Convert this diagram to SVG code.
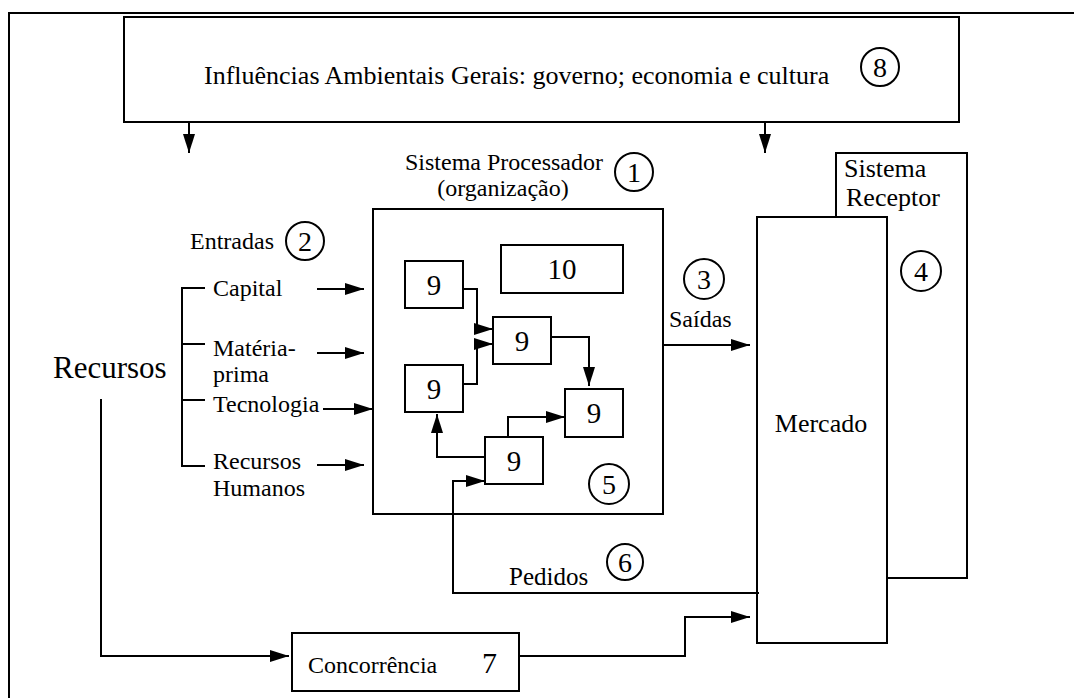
<svg xmlns="http://www.w3.org/2000/svg" width="1074" height="698" viewBox="0 0 1074 698">
  <defs>
    <marker id="ah" markerUnits="userSpaceOnUse" markerWidth="20" markerHeight="12" refX="19" refY="6" orient="auto">
      <path d="M0,0 L19,6 L0,12 z" fill="#000"/>
    </marker>
  </defs>
  <style>
    .box{fill:#fff;stroke:#000;stroke-width:2}
    .ln{fill:none;stroke:#000;stroke-width:2}
    .arr{fill:none;stroke:#000;stroke-width:2;marker-end:url(#ah)}
    .ring{fill:#fff;stroke:#000;stroke-width:2}
    text{font-family:"Liberation Serif","Times New Roman",serif;fill:#000}
    .t24{font-size:24px}
    .t26{font-size:26px}
    .dig{font-size:29px;text-anchor:middle}
    .cnum{font-size:28px;text-anchor:middle}
  </style>
  <rect width="1074" height="698" fill="#fff"/>

  <!-- page frame -->
  <path d="M9,698 V13 H1074" class="ln" stroke-width="2.5"/>

  <!-- environment -->
  <g id="influencias">
    <rect class="box" x="124" y="17" width="835" height="105"/>
    <text class="t26" x="204" y="84">Influências Ambientais Gerais: governo; economia e cultura</text>
    <circle class="ring" cx="880" cy="67" r="19"/>
    <text class="cnum" x="880" y="77">8</text>
  </g>

  <!-- processing system -->
  <g id="processador">
    <text class="t24" x="405" y="170">Sistema Processador</text>
    <text class="t24" x="503" y="196" text-anchor="middle">(organização)</text>
    <circle class="ring" cx="634" cy="172" r="19"/>
    <text class="cnum" x="634" y="182">1</text>
    <rect class="box" x="373" y="209" width="290" height="305"/>
    <circle class="ring" cx="609" cy="484" r="20"/>
    <text class="cnum" x="609" y="494">5</text>
  </g>
  <g id="b10">
    <rect class="box" x="501" y="245" width="122" height="48"/>
    <text class="dig" x="562" y="279">10</text>
  </g>
  <g id="b9a">
    <rect class="box" x="405" y="261" width="58" height="47"/>
    <text class="dig" x="434" y="295">9</text>
  </g>
  <g id="b9b">
    <rect class="box" x="493" y="317" width="58" height="47"/>
    <text class="dig" x="522" y="351">9</text>
  </g>
  <g id="b9c">
    <rect class="box" x="405" y="365" width="58" height="47"/>
    <text class="dig" x="434" y="399">9</text>
  </g>
  <g id="b9d">
    <rect class="box" x="565" y="389" width="58" height="48"/>
    <text class="dig" x="594" y="423">9</text>
  </g>
  <g id="b9e">
    <rect class="box" x="485" y="437" width="58" height="47"/>
    <text class="dig" x="514" y="471">9</text>
  </g>

  <!-- receiving system -->
  <g id="receptor">
    <rect class="box" x="836" y="153" width="131" height="425"/>
    <text class="t26" x="844" y="177">Sistema</text>
    <text class="t26" x="846" y="206">Receptor</text>
    <circle class="ring" cx="921" cy="271" r="20"/>
    <text class="cnum" x="921" y="281">4</text>
  </g>
  <g id="mercado">
    <rect class="box" x="757" y="217" width="130" height="426"/>
    <text class="t26" x="821" y="432" text-anchor="middle">Mercado</text>
  </g>

  <!-- inputs -->
  <g id="recursos">
    <text x="53" y="378" font-size="31">Recursos</text>
  </g>
  <g id="entradas">
    <text class="t24" x="190" y="249">Entradas</text>
    <circle class="ring" cx="305" cy="241" r="19"/>
    <text class="cnum" x="305" y="251">2</text>
    <path class="ln" d="M205,288 H182 V466 H205 M182,344 H205 M182,400 H205"/>
    <text class="t24" x="213" y="296">Capital</text>
    <text class="t24" x="213" y="356">Matéria-</text>
    <text class="t24" x="213" y="382">prima</text>
    <text class="t24" x="213" y="412">Tecnologia</text>
    <text class="t24" x="213" y="469">Recursos</text>
    <text class="t24" x="213" y="496">Humanos</text>
  </g>

  <g id="saidas">
    <text class="t24" x="669" y="327">Saídas</text>
    <circle class="ring" cx="704" cy="279" r="20"/>
    <text class="cnum" x="704" y="289">3</text>
  </g>

  <g id="pedidos">
    <text x="509" y="585" font-size="25">Pedidos</text>
    <circle class="ring" cx="625" cy="562" r="18"/>
    <text class="cnum" x="625" y="572">6</text>
  </g>

  <g id="concorrencia">
    <rect class="box" x="292" y="633" width="227" height="58"/>
    <text class="t24" x="308" y="673">Concorrência</text>
    <text x="482" y="673" font-size="30">7</text>
  </g>

  <!-- connectors -->
  <g id="connectors">
    <path class="arr" d="M189,122 V153"/>
    <path class="arr" d="M765,122 V153"/>
    <path class="arr" d="M317,289 H364"/>
    <path class="arr" d="M317,353 H364"/>
    <path class="arr" d="M323,409 H373"/>
    <path class="arr" d="M317,465 H364"/>
    <path class="arr" d="M663,345 H750"/>
    <path class="arr" d="M462,289 H477 V329 H493"/>
    <path class="arr" d="M462,384 H477 V344 H493"/>
    <path class="arr" d="M551,337 H589 V386"/>
    <path class="arr" d="M508,437 V417 H565"/>
    <path class="arr" d="M485,457 H437 V414"/>
    <path class="arr" d="M759,593 H453 V481 H485"/>
    <path class="arr" d="M101,399 V656 H289"/>
    <path class="arr" d="M519,656 H685 V617 H750"/>
  </g>
</svg>
